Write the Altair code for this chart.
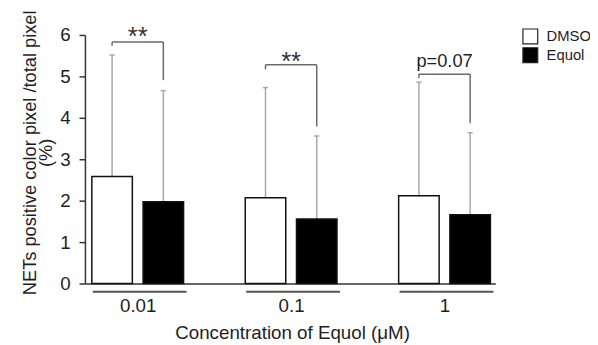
import altair as alt
import pandas as pd

# ---- data ----
concentrations = ["0.01", "0.1", "1"]
series = ["DMSO", "Equol"]
dmso_mean = [2.585, 2.07, 2.12]
dmso_sd = [2.93, 2.66, 2.74]
equol_mean = [1.975, 1.56, 1.66]
equol_sd = [2.68, 2.00, 1.98]
bracket_level = [5.83, 5.28, 5.05]
bracket_left_end = [5.74, 5.17, 4.96]
bracket_right_end = [4.91, 3.79, 3.87]
sig_labels = ["**", "**", "p=0.07"]
sig_label_y = [5.76, 5.15, 5.22]
y_ticks = [0, 1, 2, 3, 4, 5, 6]

# ---- layout constants (in x-scale units: one unit = one concentration group) ----
OFF = 0.167      # bar centre offset from group centre
HW = 0.132       # bar half width
CAP = 0.017      # error bar cap half width
UL_HW = 0.306    # group underline half width
UL_SHIFT = 0.013

rows = []
for i, c in enumerate(concentrations):
    for s, m, sd, sign in (("DMSO", dmso_mean[i], dmso_sd[i], -1),
                           ("Equol", equol_mean[i], equol_sd[i], 1)):
        xc = i + sign * OFF
        rows.append(dict(conc=c, series=s, xc=xc, x0=xc - HW, x1=xc + HW,
                         cap0=xc - CAP, cap1=xc + CAP,
                         mean=m, top=m + sd))
bars = pd.DataFrame(rows)

br = pd.DataFrame(dict(
    xl=[i - OFF for i in range(3)],
    xr=[i + OFF for i in range(3)],
    xm=[i for i in range(3)],
    lvl=bracket_level, le=bracket_left_end, re=bracket_right_end,
    lab=sig_labels, ly=sig_label_y))
stars = br[br["lab"].str.startswith("*")]
ptext = br[~br["lab"].str.startswith("*")]

ul = pd.DataFrame(dict(a=[i + UL_SHIFT - UL_HW for i in range(3)],
                       b=[i + UL_SHIFT + UL_HW for i in range(3)],
                       y=[-0.2] * 3))

FONT = "Liberation Sans"
TXT = "#1e1e1e"

xscale = alt.Scale(domain=[-0.344, 2.331], nice=False, zero=False)
yscale = alt.Scale(domain=[0, 6], nice=False)

label_expr = "[" + ",".join("'%s'" % c for c in concentrations) + "][datum.value]"

xaxis = alt.Axis(values=[0, 1, 2], labelExpr=label_expr, ticks=False, tickSize=0,
                 grid=False, domainColor="#333333", domainWidth=1.5,
                 labelFontSize=19, labelFont=FONT, labelColor=TXT,
                 labelBaseline="alphabetic", labelPadding=28,
                 title="Concentration of Equol (μM)", titleFontSize=19,
                 titleFont=FONT, titleColor=TXT, titleFontWeight="normal",
                 titleBaseline="alphabetic", titleX=210, titleY=56,
                 titleAnchor="middle")
yaxis = alt.Axis(values=y_ticks, grid=False, domainColor="#333333", domainWidth=1.5,
                 tickColor="#333333", tickWidth=1.5, tickSize=6,
                 labelFontSize=19, labelFont=FONT, labelColor=TXT, labelPadding=9,
                 title=["NETs positive color pixel /total pixel", "(%)"],
                 titleFontSize=18.5, titleFont=FONT, titleColor=TXT,
                 titleFontWeight="normal", titleLineHeight=16,
                 titleX=-46, titleY=119)

base = alt.Chart(bars)

errbars = base.mark_rule(color="#a8a8a8", strokeWidth=1.5).encode(
    x=alt.X("xc:Q", scale=xscale, axis=xaxis),
    y=alt.Y("mean:Q", scale=yscale, axis=yaxis),
    y2="top:Q")
caps = base.mark_rule(color="#a8a8a8", strokeWidth=1.5).encode(
    x="cap0:Q", x2="cap1:Q", y="top:Q")

barmarks = base.mark_bar(stroke="#111111", strokeWidth=1.5).encode(
    x="x0:Q", x2="x1:Q", y="mean:Q", y2=alt.datum(0),
    fill=alt.Fill("series:N",
                  scale=alt.Scale(domain=series, range=["white", "black"]),
                  legend=alt.Legend(title=None, orient="none", legendX=443, legendY=-7,
                                    symbolType="square", symbolSize=225,
                                    symbolStrokeColor="#222222", symbolStrokeWidth=1.2,
                                    labelFontSize=15, labelFont=FONT, labelColor=TXT,
                                    labelOffset=8, rowPadding=-4, padding=0)))

hline = alt.Chart(br).mark_rule(color="#6a6a6a", strokeWidth=1.5).encode(
    x="xl:Q", x2="xr:Q", y="lvl:Q")
lline = alt.Chart(br).mark_rule(color="#6a6a6a", strokeWidth=1.5).encode(
    x="xl:Q", y="lvl:Q", y2="le:Q")
rline = alt.Chart(br).mark_rule(color="#6a6a6a", strokeWidth=1.5).encode(
    x="xr:Q", y="lvl:Q", y2="re:Q")
star_text = alt.Chart(stars).mark_text(fontSize=26, font=FONT, color="#333333",
                                       baseline="alphabetic").encode(
    x="xm:Q", y="ly:Q", text="lab:N")
p_text = alt.Chart(ptext).mark_text(fontSize=18.5, font=FONT, color=TXT,
                                    baseline="alphabetic").encode(
    x="xm:Q", y="ly:Q", text="lab:N")

underlines = alt.Chart(ul).mark_rule(color="#555555", strokeWidth=2).encode(
    x="a:Q", x2="b:Q", y="y:Q")

chart = alt.layer(errbars, caps, barmarks, hline, lline, rline, star_text, p_text,
                  underlines).properties(
    width=416, height=252,
    autosize=alt.AutoSizeParams(type="none"),
    padding={"left": 78, "top": 25, "right": 96, "bottom": 60},
).configure_view(stroke=None)

chart.save("out.html", embed_options={"renderer": "svg", "actions": False})
